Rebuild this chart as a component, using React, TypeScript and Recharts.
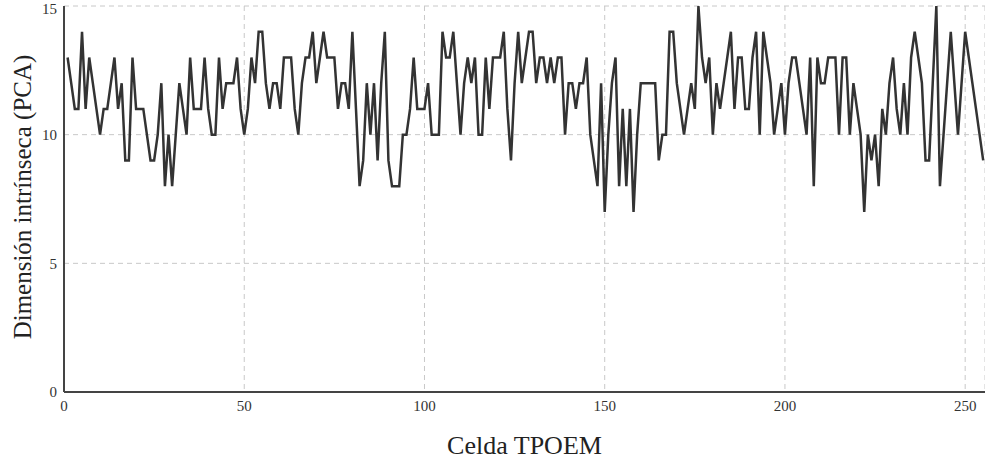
import React from 'react';
import { LineChart, Line, XAxis, YAxis, CartesianGrid, Label } from 'recharts';

const dimValues: number[] = [
  13, 12, 11, 11, 14, 11, 13, 12, 11, 10,
  11, 11, 12, 13, 11, 12, 9, 9, 13, 11,
  11, 11, 10, 9, 9, 10, 12, 8, 10, 8,
  10, 12, 11, 10, 13, 11, 11, 11, 13, 11,
  10, 10, 13, 11, 12, 12, 12, 13, 11, 10,
  11, 13, 12, 14, 14, 12, 11, 12, 12, 11,
  13, 13, 13, 11, 10, 12, 13, 13, 14, 12,
  13, 14, 13, 13, 13, 11, 12, 12, 11, 14,
  11, 8, 9, 12, 10, 12, 9, 12, 14, 9,
  8, 8, 8, 10, 10, 11, 13, 11, 11, 11,
  12, 10, 10, 10, 14, 13, 13, 14, 12, 10,
  12, 13, 12, 13, 10, 10, 13, 11, 13, 13,
  13, 14, 11, 9, 12, 14, 12, 13, 14, 14,
  12, 13, 13, 12, 13, 12, 13, 13, 10, 12,
  12, 11, 12, 12, 13, 10, 9, 8, 12, 7,
  10, 12, 13, 8, 11, 8, 11, 7, 10, 12,
  12, 12, 12, 12, 9, 10, 10, 14, 14, 12,
  11, 10, 11, 12, 11, 15, 13, 12, 13, 10,
  12, 11, 12, 13, 14, 11, 13, 13, 11, 11,
  13, 14, 10, 14, 13, 12, 10, 11, 12, 10,
  12, 13, 13, 12, 11, 10, 13, 8, 13, 12,
  12, 13, 13, 13, 10, 13, 13, 10, 12, 11,
  10, 7, 10, 9, 10, 8, 11, 10, 12, 13,
  11, 10, 12, 10, 13, 14, 13, 12, 9, 9,
  12, 15, 8, 10, 12, 14, 12, 10, 12, 14,
  13, 12, 11, 10, 9,
];

const xTicks: number[] = [0, 50, 100, 150, 200, 250];
const yTicks: number[] = [0, 5, 10, 15];

const xTitle = 'Celda TPOEM';
const yTitle = 'Dimensión intrínseca (PCA)';

const data = dimValues.map((v, i) => ({ cell: i + 1, dim: v }));

const FONT = '"Liberation Serif", "Times New Roman", serif';

const YTitle = (props: any) => {
  const vb = props.viewBox || { x: 0, y: 6, width: 64, height: 386 };
  const cx = vb.x + 22;
  const cy = vb.y + vb.height / 2 - 2;
  return (
    <text
      x={cx}
      y={cy}
      transform={`rotate(-90 ${cx} ${cy})`}
      textAnchor="middle"
      dominantBaseline="central"
      style={{ fontSize: 25, fontFamily: FONT, fill: '#222' }}
    >
      {yTitle}
    </text>
  );
};

export default function App() {
  return (
    <div style={{ position: 'absolute', left: 0, top: 0, width: 985, height: 463, background: '#fff' }}>
      <LineChart width={985} height={463} data={data} margin={{ top: 6, right: 0, bottom: 0, left: 0 }}>
        <CartesianGrid stroke="#c8c8c8" strokeDasharray="5 4" strokeWidth={1} />
        <XAxis
          dataKey="cell"
          type="number"
          domain={[0, 255.5]}
          ticks={xTicks}
          allowDataOverflow
          height={71}
          tickSize={0}
          tickMargin={8}
          axisLine={{ stroke: '#444', strokeWidth: 2 }}
          tick={{ fontSize: 15, fontFamily: FONT, fill: '#333' }}
        >
          <Label
            value={xTitle}
            position="insideBottom"
            offset={9}
            style={{ fontSize: 26, fontFamily: FONT, fill: '#222' }}
          />
        </XAxis>
        <YAxis
          type="number"
          domain={[0, 15]}
          ticks={yTicks}
          width={64}
          tickSize={0}
          tickMargin={7}
          axisLine={{ stroke: '#444', strokeWidth: 2 }}
          tick={{ fontSize: 15, fontFamily: FONT, fill: '#333' }}
          label={<YTitle />}
        />
        <Line
          type="linear"
          dataKey="dim"
          stroke="#333"
          strokeWidth={2.5}
          dot={false}
          isAnimationActive={false}
        />
      </LineChart>
    </div>
  );
}
